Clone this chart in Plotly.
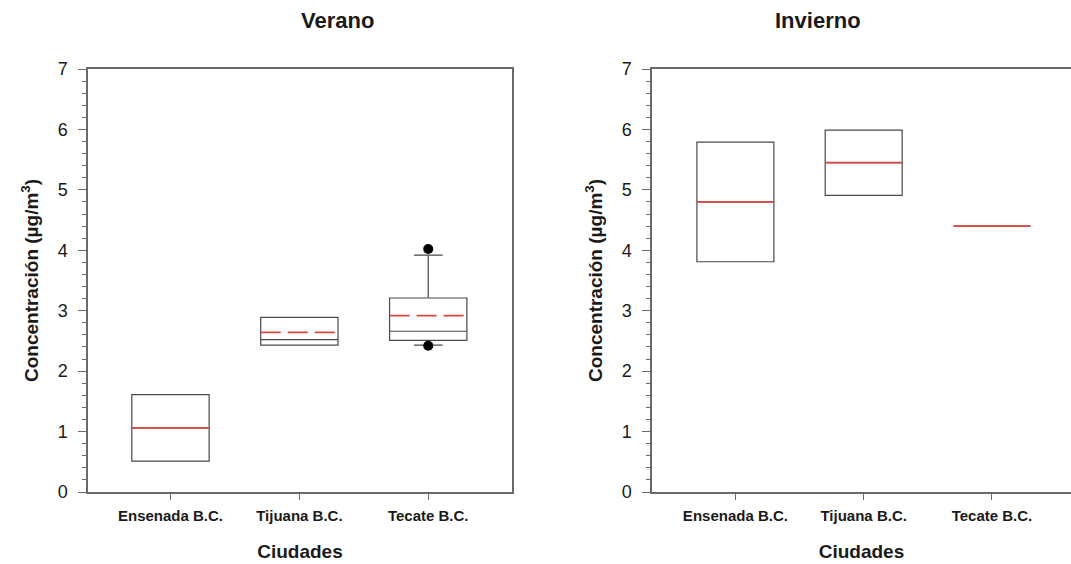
import plotly.graph_objects as go

# ---------------- data ----------------
cities = ["Ensenada B.C.", "Tijuana B.C.", "Tecate B.C."]

verano_q1 = [0.51, 2.43, 2.51]
verano_median = [1.06, 2.52, 2.66]
verano_q3 = [1.61, 2.89, 3.21]
verano_lowerfence = [0.51, 2.43, 2.43]
verano_upperfence = [1.61, 2.89, 3.92]
verano_mean = [1.06, 2.64, 2.92]
verano_outlier_city = [2, 2]
verano_outlier_val = [4.02, 2.42]

invierno_q1 = [3.81, 4.91, 4.40]
invierno_median = [4.80, 5.45, 4.40]
invierno_q3 = [5.79, 5.99, 4.40]
invierno_lowerfence = [3.81, 4.91, 4.40]
invierno_upperfence = [5.79, 5.99, 4.40]
invierno_mean = [4.80, 5.45, 4.40]

yticks = [0, 1, 2, 3, 4, 5, 6, 7]

# ---------------- style ----------------
BOX_W = 0.6
BOX_LINE = "#4a4a4a"
AXIS_LINE = "#6a6a6a"
RED = "#d8473e"
TXT = "#1a1a1a"
FONT = "Liberation Sans, Arial, sans-serif"
verano_mean_dash = ["solid", "20px,7px", "20px,7px"]
invierno_mean_dash = ["solid", "solid", "solid"]
verano_whisker = [0, 0, 0.37]
invierno_whisker = [0, 0, 0]

fig = go.Figure()


def add_panel(xa, ya, q1, med, q3, lo, hi, mean, dashes, wws):
    for i in range(len(cities)):
        fig.add_trace(go.Box(
            x=[i], q1=[q1[i]], median=[med[i]], q3=[q3[i]],
            lowerfence=[lo[i]], upperfence=[hi[i]],
            width=BOX_W, whiskerwidth=wws[i],
            fillcolor="rgba(0,0,0,0)",
            line=dict(color=BOX_LINE, width=1.2),
            boxpoints=False, showlegend=False,
            xaxis=xa, yaxis=ya, hoverinfo="skip",
        ))
    for i in range(len(cities)):
        fig.add_trace(go.Scatter(
            x=[i - BOX_W / 2, i + BOX_W / 2], y=[mean[i], mean[i]],
            mode="lines", line=dict(color=RED, width=1.8, dash=dashes[i]),
            showlegend=False, xaxis=xa, yaxis=ya, hoverinfo="skip",
        ))


add_panel("x", "y", verano_q1, verano_median, verano_q3,
          verano_lowerfence, verano_upperfence, verano_mean,
          verano_mean_dash, verano_whisker)
fig.add_trace(go.Scatter(
    x=verano_outlier_city, y=verano_outlier_val, mode="markers",
    marker=dict(color="black", size=10), showlegend=False,
    xaxis="x", yaxis="y", hoverinfo="skip",
))
add_panel("x2", "y2", invierno_q1, invierno_median, invierno_q3,
          invierno_lowerfence, invierno_upperfence, invierno_mean,
          invierno_mean_dash, invierno_whisker)

W, H = 1071, 564
ydom = [(H - 492) / H, (H - 69) / H]


def xaxis(dom, rng):
    return dict(
        domain=dom, range=rng, tickmode="array", automargin=False,
        tickvals=list(range(len(cities))), ticktext=cities,
        showgrid=False, zeroline=False,
        showline=True, linecolor=AXIS_LINE, linewidth=1.5, mirror=True,
        ticks="outside", ticklen=6, tickcolor=AXIS_LINE, tickwidth=1.2,
        ticklabelstandoff=3,
        tickfont=dict(family=FONT, size=15, color=TXT, weight="bold"),
        title=dict(text="<b>Ciudades</b>", standoff=22,
                   font=dict(family=FONT, size=19, color=TXT)),
    )


def yaxis(anchor, mirror):
    return dict(
        domain=ydom, range=[0, 7], anchor=anchor, automargin=False,
        tickmode="array", tickvals=yticks,
        showgrid=False, zeroline=False,
        showline=True, linecolor=AXIS_LINE, linewidth=1.5, mirror=mirror,
        ticks="outside", ticklen=8, tickcolor=AXIS_LINE, tickwidth=1.2,
        ticklabelstandoff=7,
        tickfont=dict(family=FONT, size=18, color=TXT),
        minor=dict(dtick=0.2, ticks="outside", ticklen=4,
                   tickcolor=AXIS_LINE, tickwidth=1, showgrid=False),
        title=dict(text="<b>Concentración (µg/m<sup>3</sup>)</b>", standoff=14,
                   font=dict(family=FONT, size=19, color=TXT)),
    )


fig.update_layout(
    width=W, height=H,
    margin=dict(l=0, r=0, t=0, b=0, autoexpand=False),
    paper_bgcolor="white", plot_bgcolor="white",
    xaxis=dict(anchor="y", **xaxis([88 / W, 512 / W], [-0.64, 2.65])),
    yaxis=yaxis("x", True),
    xaxis2=dict(anchor="y2", **xaxis([652 / W, 1.0], [-0.65, 2.616])),
    yaxis2=yaxis("x2", False),
    annotations=[
        dict(text="<b>Verano</b>", x=298.5 / W, y=(H - 20) / H,
             xref="paper", yref="paper", showarrow=False, yanchor="middle",
             font=dict(family=FONT, size=22, color=TXT)),
        dict(text="<b>Invierno</b>", x=862.5 / W, y=(H - 20) / H,
             xref="paper", yref="paper", showarrow=False, yanchor="middle",
             font=dict(family=FONT, size=22, color=TXT)),
    ],
)

fig.write_html(
    "out.html",
    config={"displayModeBar": False},
    post_script="document.body.style.margin='0';document.body.style.overflow='hidden';",
)
